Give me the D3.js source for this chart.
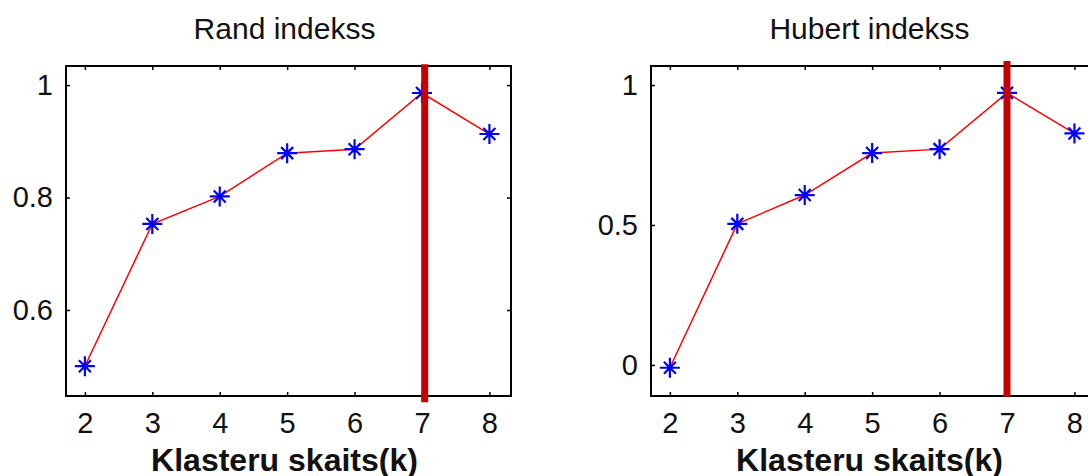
<!DOCTYPE html>
<html>
<head>
<meta charset="utf-8">
<script src="https://cdn.jsdelivr.net/npm/d3@7"></script>
<style>
    html, body { margin: 0; padding: 0; background: #fff; }
    svg { display: block; }
    .tick text { font-family: 'Liberation Sans', Arial, sans-serif; fill: #111; }
</style>
</head>
<body>
<svg id="chart" width="1088" height="476"></svg>
<script>
'use strict';

// values
const kValues = [2, 3, 4, 5, 6, 7, 8];
const randValues = [0.500, 0.753, 0.802, 0.879, 0.886, 0.986, 0.913];
const hubertValues = [-0.010, 0.504, 0.607, 0.757, 0.771, 0.972, 0.827];

const panelTitles = ['Rand indekss', 'Hubert indekss'];
const xLabel = 'Klasteru skaits(k)';
const xTicks = [2, 3, 4, 5, 6, 7, 8];
const randTicks = [0.6, 0.8, 1];
const hubertTicks = [0, 0.5, 1];

const xDomain = [1.72, 8.32];
const randDomain = [0.447, 1.034];
const hubertDomain = [-0.111, 1.068];

// thick marker line at the chosen k
const bestK = [7.04, 7];
const bestTop = [1.037, 1.086];
const bestBottom = [0.436, -0.114];

const panels = [
    {title: panelTitles[0], values: randValues, ticks: randTicks, yDomain: randDomain,
     k: bestK[0], top: bestTop[0], bottom: bestBottom[0], left: 66},
    {title: panelTitles[1], values: hubertValues, ticks: hubertTicks, yDomain: hubertDomain,
     k: bestK[1], top: bestTop[1], bottom: bestBottom[1], left: 651}
];

const svg = d3.select('#chart');
svg.append('rect').attr('width', 1088).attr('height', 476).attr('fill', '#fff');

const plotW = 445;
const plotTop = 66;
const plotH = 330;
const fontTick = 29;

panels.forEach(p => {
    const g = svg.append('g').attr('transform', `translate(${p.left},${plotTop})`);

    const x = d3.scaleLinear().domain(xDomain).range([0, plotW]);
    const y = d3.scaleLinear().domain(p.yDomain).range([plotH, 0]);

    // axes with inward ticks on all four sides
    const bottom = g.append('g')
        .attr('transform', `translate(0,${plotH})`)
        .call(d3.axisBottom(x).tickValues(xTicks).tickSize(-4).tickSizeOuter(0).tickPadding(16)
            .tickFormat(d => String(d)));
    const left = g.append('g')
        .call(d3.axisLeft(y).tickValues(p.ticks).tickSize(-4).tickSizeOuter(0).tickPadding(13)
            .tickFormat(d => String(d)));
    g.append('g')
        .call(d3.axisTop(x).tickValues(xTicks).tickSize(-4).tickSizeOuter(0).tickFormat(''));
    g.append('g')
        .attr('transform', `translate(${plotW},0)`)
        .call(d3.axisRight(y).tickValues(p.ticks).tickSize(-4).tickSizeOuter(0).tickFormat(''));

    g.selectAll('.domain').remove();
    g.selectAll('.tick line').attr('stroke', '#000').attr('stroke-width', 1.5);
    bottom.selectAll('text').style('font-size', fontTick + 'px');
    left.selectAll('text').style('font-size', fontTick + 'px');

    g.append('rect')
        .attr('width', plotW)
        .attr('height', plotH)
        .attr('fill', 'none')
        .attr('stroke', '#000')
        .attr('stroke-width', 2);

    const pts = kValues.map((k, i) => [k, p.values[i]]);

    g.append('path')
        .datum(pts)
        .attr('fill', 'none')
        .attr('stroke', '#ff0000')
        .attr('stroke-width', 1.5)
        .attr('d', d3.line().x(d => x(d[0])).y(d => y(d[1])));

    // asterisk markers
    const a = 10, b = 6;
    g.selectAll('.star')
        .data(pts)
        .enter().append('path')
        .attr('class', 'star')
        .attr('transform', d => `translate(${x(d[0])},${y(d[1])})`)
        .attr('stroke', '#0000ff')
        .attr('stroke-width', 2.2)
        .attr('fill', 'none')
        .attr('d', `M${-a},0H${a}M0,${-a}V${a}M${-b},${-b}L${b},${b}M${-b},${b}L${b},${-b}`);

    g.append('line')
        .attr('x1', x(p.k)).attr('x2', x(p.k))
        .attr('y1', y(p.top)).attr('y2', y(p.bottom))
        .attr('stroke', '#c40000')
        .attr('stroke-width', 7);

    g.append('text')
        .attr('x', plotW / 2 - 4)
        .attr('y', -27)
        .attr('text-anchor', 'middle')
        .style('font-family', "'Liberation Sans', Arial, sans-serif")
        .style('font-size', '30px')
        .attr('fill', '#111')
        .text(p.title);

    g.append('text')
        .attr('x', plotW / 2 - 4)
        .attr('y', plotH + 75)
        .attr('text-anchor', 'middle')
        .style('font-family', "'Liberation Sans', Arial, sans-serif")
        .style('font-size', '32px')
        .style('font-weight', 'bold')
        .attr('fill', '#111')
        .text(xLabel);
});
</script>
</body>
</html>
